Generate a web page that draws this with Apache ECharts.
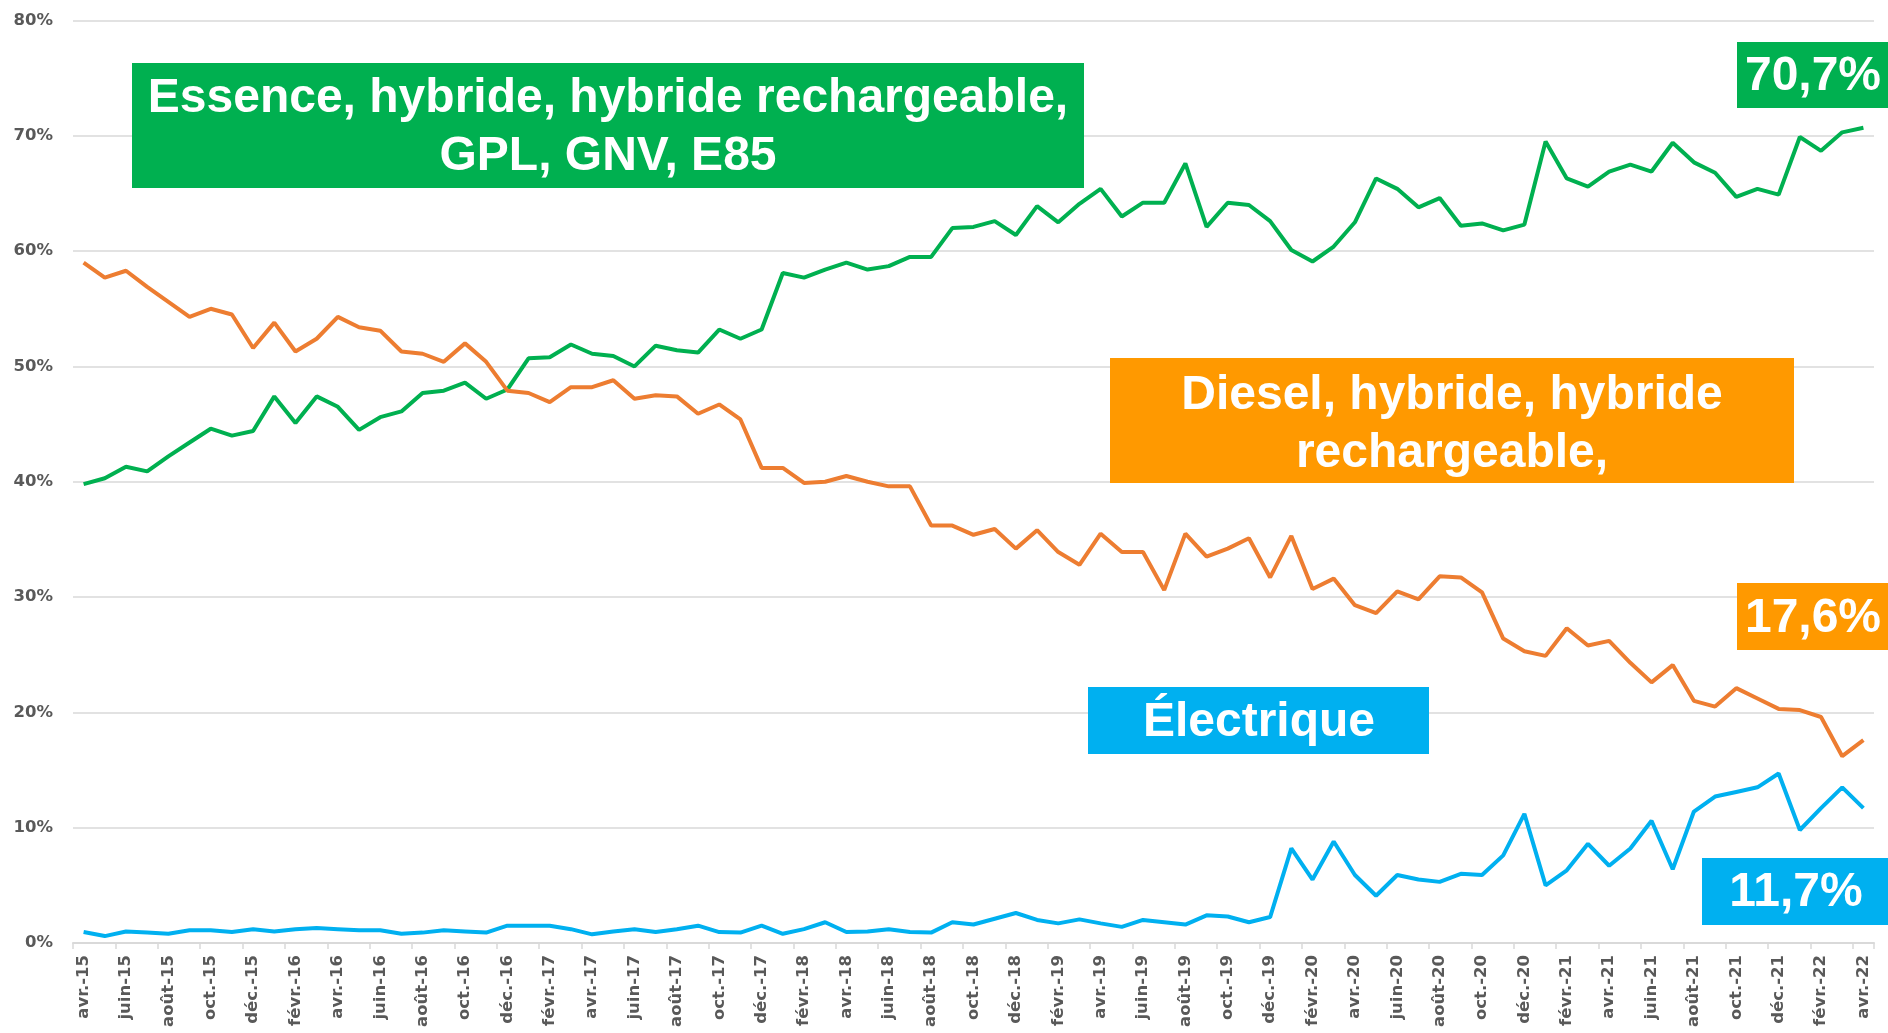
<!DOCTYPE html>
<html>
<head>
<meta charset="utf-8">
<script src="https://cdn.jsdelivr.net/npm/echarts@6/dist/echarts.min.js"></script>
<style>
html,body{margin:0;padding:0;background:#fff;}
#chart{width:1888px;height:1033px;}
</style>
</head>
<body>
<div id="chart"></div>
<script>
const categories = [
'avr.-15','mai-15','juin-15','juil.-15','août-15','sept.-15','oct.-15','nov.-15','déc.-15',
'janv.-16','févr.-16','mars-16','avr.-16','mai-16','juin-16','juil.-16','août-16','sept.-16','oct.-16','nov.-16','déc.-16',
'janv.-17','févr.-17','mars-17','avr.-17','mai-17','juin-17','juil.-17','août-17','sept.-17','oct.-17','nov.-17','déc.-17',
'janv.-18','févr.-18','mars-18','avr.-18','mai-18','juin-18','juil.-18','août-18','sept.-18','oct.-18','nov.-18','déc.-18',
'janv.-19','févr.-19','mars-19','avr.-19','mai-19','juin-19','juil.-19','août-19','sept.-19','oct.-19','nov.-19','déc.-19',
'janv.-20','févr.-20','mars-20','avr.-20','mai-20','juin-20','juil.-20','août-20','sept.-20','oct.-20','nov.-20','déc.-20',
'janv.-21','févr.-21','mars-21','avr.-21','mai-21','juin-21','juil.-21','août-21','sept.-21','oct.-21','nov.-21','déc.-21',
'janv.-22','févr.-22','mars-22','avr.-22'
];

const essence = [
39.8, 40.3, 41.3, 40.9, 42.2, 43.4, 44.6, 44.0, 44.4, 47.4, 45.1, 47.4, 46.5, 44.5, 45.6, 46.1, 47.7, 47.9, 48.6, 47.2, 48.0, 50.7, 50.8, 51.9, 51.1, 50.9, 50.0, 51.8, 51.4, 51.2, 53.2,
52.4, 53.2, 58.1, 57.7, 58.4, 59.0, 58.4, 58.7, 59.5, 59.5, 62.0, 62.1, 62.6, 61.4, 63.9, 62.5, 64.1, 65.4, 63.0, 64.2, 64.2, 67.6, 62.1, 64.2, 64.0, 62.6, 60.1,
59.1, 60.4, 62.5, 66.3, 65.4, 63.8, 64.6, 62.2, 62.4, 61.8, 62.3, 69.5, 66.3, 65.6, 66.9, 67.5, 66.9, 69.4, 67.7, 66.8, 64.7, 65.4, 64.9, 69.9, 68.7, 70.3, 70.7
];

const diesel = [
59.0, 57.7, 58.3, 56.9, 55.6, 54.3, 55.0, 54.5, 51.6, 53.8, 51.3, 52.4, 54.3, 53.4, 53.1, 51.3, 51.1, 50.4, 52.0, 50.4, 47.9, 47.7, 46.9, 48.2, 48.2, 48.8, 47.2, 47.5, 47.4, 45.9, 46.7,
45.4, 41.2, 41.2, 39.9, 40.0, 40.5, 40.0, 39.6, 39.6, 36.2, 36.2, 35.4, 35.9, 34.2, 35.8, 33.9, 32.8, 35.5, 33.9, 33.9, 30.6, 35.5, 33.5, 34.2, 35.1, 31.7, 35.3,
30.7, 31.6, 29.3, 28.6, 30.5, 29.8, 31.8, 31.7, 30.4, 26.4, 25.3, 24.9, 27.3, 25.8, 26.2, 24.3, 22.6, 24.1, 21.0, 20.5, 22.1, 21.2, 20.3, 20.2, 19.6, 16.2, 17.6
];

const electrique = [
0.95, 0.6, 1.0, 0.9, 0.8, 1.1, 1.1, 0.95, 1.2, 1.0, 1.2, 1.3, 1.2, 1.1, 1.1, 0.8, 0.9, 1.1, 1.0, 0.9, 1.5, 1.5, 1.5, 1.2, 0.75, 1.0, 1.2, 0.95, 1.2, 1.5, 0.95, 0.9, 1.5, 0.8, 1.2, 1.8, 0.95, 1.0, 1.2, 0.95, 0.9, 1.8, 1.6, 2.1, 2.6,
2.0, 1.7, 2.05, 1.7, 1.4, 2.0, 1.8, 1.6, 2.4, 2.3, 1.8, 2.25, 8.2, 5.5, 8.8, 5.9, 4.1, 5.9, 5.5, 5.3, 6.0, 5.9, 7.6, 11.2, 5.0, 6.3, 8.6, 6.7, 8.2, 10.6, 6.4, 11.4, 12.7, 13.1, 13.5, 14.7, 9.8, 11.7, 13.5, 11.7
];

const seriesNames = ['Essence, hybride, hybride rechargeable, GPL, GNV, E85', 'Diesel, hybride, hybride rechargeable,', 'Électrique'];
const boxLabels = ['Essence, hybride, hybride rechargeable,\nGPL, GNV, E85', 'Diesel, hybride, hybride\nrechargeable,', 'Électrique'];
const endLabels = ['70,7%', '17,6%', '11,7%'];

const GREEN = '#00B050', ORANGE_LINE = '#ED7D31', ORANGE_BOX = '#FF9900', BLUE = '#00B0F0';
const BOXFONT = 'bold 48px "Liberation Sans", Arial, sans-serif';

function box(x, y, w, h, color, text, cx, cy, lh) {
  return [
    { type: 'rect', shape: { x: x, y: y, width: w, height: h }, style: { fill: color }, z: 100 },
    { type: 'text', x: cx, y: cy, z: 101,
      style: { text: text, fill: '#fff', font: BOXFONT, align: 'center', verticalAlign: 'middle',
               textAlign: 'center', textVerticalAlign: 'middle', lineHeight: lh || 58 } }
  ];
}

const chart = echarts.init(document.getElementById('chart'), null, { renderer: 'canvas' });
chart.setOption({
  animation: false,
  backgroundColor: '#ffffff',
  grid: { left: 73, right: 14, top: 20.5, bottom: 90, containLabel: false },
  xAxis: {
    type: 'category',
    data: categories,
    boundaryGap: true,
    axisLine: { show: true, lineStyle: { color: '#d9d9d9', width: 2 } },
    axisTick: { show: true, interval: 1, length: 6, lineStyle: { color: '#d9d9d9', width: 1.5 } },
    axisLabel: { interval: 1, rotate: 90, margin: 12, color: '#595959',
                 fontFamily: 'DejaVu Sans', fontWeight: 'bold', fontSize: 16.5 },
    splitLine: { show: false }
  },
  yAxis: {
    type: 'value',
    min: 0, max: 80, interval: 10,
    axisLine: { show: false },
    axisTick: { show: false },
    axisLabel: { formatter: '{value}%', margin: 20, color: '#595959',
                 fontFamily: 'DejaVu Sans', fontWeight: 'bold', fontSize: 16.5 },
    splitLine: { show: true, lineStyle: { color: '#d9d9d9', width: 1.5 } }
  },
  series: [
    { name: seriesNames[0], type: 'line', data: essence, symbol: 'none',
      lineStyle: { color: GREEN, width: 4 }, itemStyle: { color: GREEN } },
    { name: seriesNames[1], type: 'line', data: diesel, symbol: 'none',
      lineStyle: { color: ORANGE_LINE, width: 4 }, itemStyle: { color: ORANGE_LINE } },
    { name: seriesNames[2], type: 'line', data: electrique, symbol: 'none',
      lineStyle: { color: BLUE, width: 4 }, itemStyle: { color: BLUE } }
  ],
  graphic: [].concat(
    box(132, 63, 952, 125, GREEN, boxLabels[0], 608, 128, 58),
    box(1737, 42, 151, 66, GREEN, endLabels[0], 1813, 77),
    box(1110, 358, 684, 125, ORANGE_BOX, boxLabels[1], 1452, 425, 58),
    box(1737, 583, 151, 67, ORANGE_BOX, endLabels[1], 1813, 619),
    box(1088, 687, 341, 67, BLUE, boxLabels[2], 1259, 723),
    box(1702, 858, 186, 67, BLUE, endLabels[2], 1796, 893)
  )
});
</script>
</body>
</html>
